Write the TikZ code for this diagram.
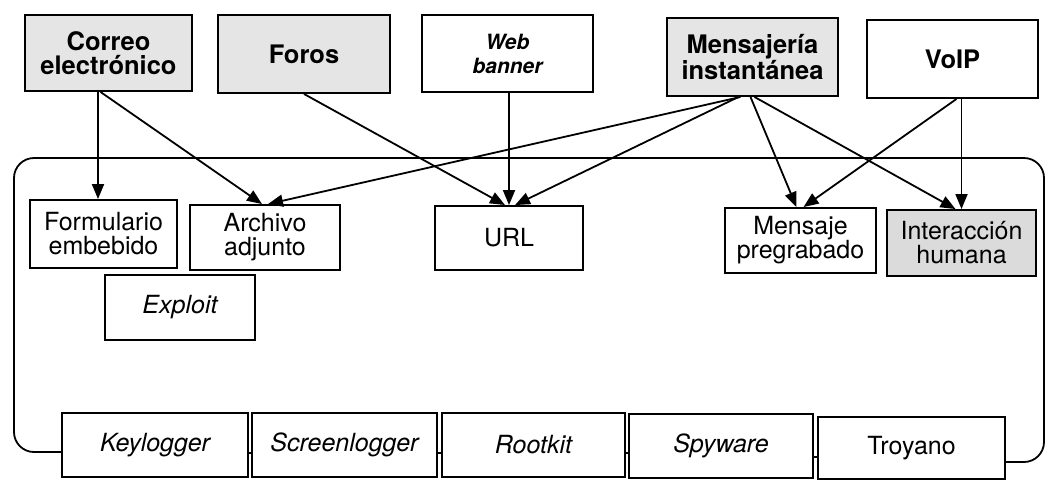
\documentclass[tikz,border=0pt]{standalone}
\usepackage{fontspec}
\setmainfont{TeX Gyre Heros}
\usetikzlibrary{arrows.meta}
\begin{document}
\begin{tikzpicture}[x=1pt,y=-1pt,
  box/.style={draw, line width=1.9pt, inner sep=0pt, align=center, font=\fontsize{25}{24}\selectfont},
  src/.style={box, font=\fontsize{25.5}{24}\selectfont\bfseries},
  web/.style={box, font=\fontsize{21}{24}\selectfont\bfseries\itshape},
  itbox/.style={box, font=\fontsize{25}{24}\selectfont\itshape},
  shade/.style={fill=black!10},
  arr/.style={line width=1.8pt, -{Triangle[length=15pt,width=12pt]}},
  link/.style={line width=1.8pt}]
\useasboundingbox (0,0) rectangle (1046,480);

% loop corners
\coordinate (lcorner) at (14,158);
\coordinate (rcorner) at (1044,462);

% top sources
\node[src, shade, minimum width=167pt, minimum height=76pt] (corr) at (108.5,53) {Correo\\electrónico};
\node[src, shade, minimum width=172pt, minimum height=78pt] (foros) at (304,54) {Foros};
\node[web, minimum width=171pt, minimum height=77pt] (webb) at (507.5,53.5) {Web\\banner};
\node[src, shade, minimum width=171pt, minimum height=78pt] (mens) at (752.5,57) {Mensajería\\instantánea};
\node[src, minimum width=171pt, minimum height=78pt] (voip) at (952.5,59) {VoIP};

% middle row
\node[box, fill=white, minimum width=147pt, minimum height=68pt] (form) at (103.5,234) {Formulario\\embebido};
\node[box, fill=white, minimum width=150pt, minimum height=65pt] (arch) at (265,237.5) {Archivo\\adjunto};
\node[itbox, fill=white, minimum width=150pt, minimum height=65pt] (expl) at (180,307.5) {Exploit};
\node[box, fill=white, minimum width=148pt, minimum height=64pt] (url) at (509,238) {URL};
\node[box, fill=white, minimum width=151pt, minimum height=65pt] (msg) at (800.5,240.5) {Mensaje\\pregrabado};
\node[box, fill=black!14, minimum width=149pt, minimum height=66pt] (inter) at (961.5,243) {Interacción\\humana};

% bottom row
\node[itbox, minimum width=186pt, minimum height=64pt] (key) at (155,445) {Keylogger};
\node[itbox, minimum width=185pt, minimum height=64pt] (scr) at (344.5,445) {Screenlogger};
\node[itbox, minimum width=183pt, minimum height=64pt] (root) at (533.5,445) {Rootkit};
\node[itbox, minimum width=184pt, minimum height=64pt] (spy) at (721,446) {Spyware};
\node[box, minimum width=187pt, minimum height=62pt] (troy) at (911.5,448) {Troyano};

\draw[link, rounded corners=20pt] ([yshift=-7pt]key.west) -| (lcorner) -| (rcorner) -- ([yshift=-14pt]troy.east);

\draw[link] ([yshift=-8pt]key.east) -- ([yshift=-8pt]scr.west);
\draw[link] ([yshift=-8pt]scr.east) -- ([yshift=-8pt]root.west);
\draw[link] ([yshift=-8pt]root.east) -- ([yshift=-7pt]spy.west);
\draw[link] ([yshift=-11pt]spy.east) -- ([yshift=-9pt]troy.west);

% arrows
\draw[arr] ([xshift=-10.5pt]corr.south) -- ([xshift=-5.5pt]form.north);
\draw[arr] ([xshift=-8pt]corr.south) -- ([xshift=-3pt]arch.north);
\draw[arr] (foros.south) -- ([xshift=-4pt]url.north);
\draw[arr] (webb.south -| url.north) -- (url.north);
\draw[arr] ([xshift=-12pt]mens.south) -- ([xshift=3pt]arch.north);
\draw[arr] ([xshift=-14pt]mens.south) -- ([xshift=6pt]url.north);
\draw[arr] ([xshift=-2pt]mens.south) -- ([xshift=-4pt]msg.north);
\draw[arr] ([xshift=2pt]mens.south) -- ([xshift=-6pt]inter.north);
\draw[arr] ([xshift=4pt]voip.south) -- ([xshift=3pt]msg.north);
\draw[arr] (voip.south -| inter.north) -- (inter.north);
\end{tikzpicture}
\end{document}
